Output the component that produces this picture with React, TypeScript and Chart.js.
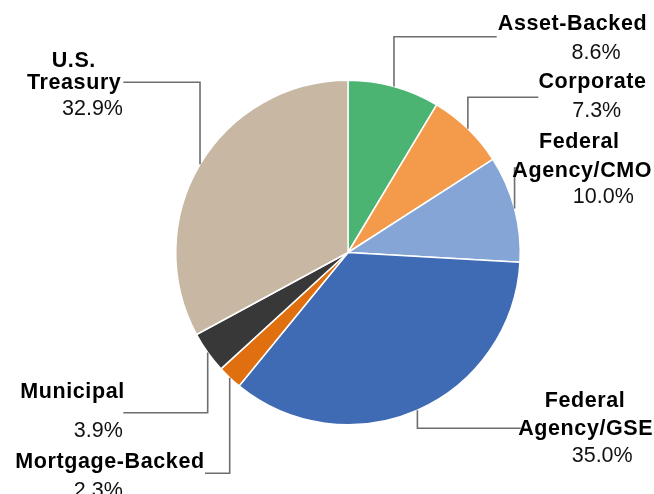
import React, { useEffect, useRef } from "react";
import { Chart, registerables } from "chart.js";

Chart.register(...registerables);

const categories = [
  "Asset-Backed",
  "Corporate",
  "Federal Agency/CMO",
  "Federal Agency/GSE",
  "Mortgage-Backed",
  "Municipal",
  "U.S. Treasury",
];
const shares = [8.6, 7.3, 10.0, 35.0, 2.3, 3.9, 32.9];
const nameLines = [
  ["Asset-Backed"],
  ["Corporate"],
  ["Federal", "Agency/CMO"],
  ["Federal", "Agency/GSE"],
  ["Mortgage-Backed"],
  ["Municipal"],
  ["U.S.", "Treasury"],
];
const colors = ["#4BB473", "#F39B4A", "#84A5D6", "#3F6BB4", "#E0700F", "#383838", "#C7B7A3"];

// label placement (canvas px): x centres / baselines for name lines, percent line, leader elbow
const labelLayout = [
  { nx: [572.5], ny: [30], px: 596, py: 58.5, elbowY: 36.7, endX: 496.7 },
  { nx: [592.5], ny: [88], px: 596.7, py: 116.5, elbowY: 97.3, endX: 538.3 },
  { nx: [579.3, 582.2], ny: [148, 176.5], px: 603.3, py: 203.3, elbowY: 168, endX: 517 },
  { nx: [585, 585.7], ny: [406.5, 435], px: 602.2, py: 461.7, elbowY: 428.3, endX: 520.7 },
  { nx: [110], ny: [468.3], px: 98.3, py: 496.7, elbowY: 473.3, endX: 205 },
  { nx: [72.5], ny: [398.3], px: 98.3, py: 436.7, elbowY: 412.7, endX: 123.3 },
  { nx: [73.8, 74.2], ny: [66.7, 89.3], px: 92.5, py: 115, elbowY: 82.3, endX: 123.3 },
];

const labelPlugin = {
  id: "leaderLabels",
  afterDatasetsDraw(chart: any) {
    const ctx = chart.ctx;
    const meta = chart.getDatasetMeta(0);
    const data = chart.data.datasets[0].data as number[];
    ctx.save();
    meta.data.forEach((arc: any, i: number) => {
      const { x, y, startAngle, endAngle, outerRadius } = arc.getProps(
        ["x", "y", "startAngle", "endAngle", "outerRadius"],
        true
      );
      const mid = (startAngle + endAngle) / 2;
      const sx = x + Math.cos(mid) * outerRadius;
      const sy = y + Math.sin(mid) * outerRadius;
      const L = labelLayout[i];
      ctx.strokeStyle = "#6E6E6E";
      ctx.lineWidth = 1.6;
      ctx.beginPath();
      ctx.moveTo(sx, sy);
      ctx.lineTo(sx, L.elbowY);
      ctx.lineTo(L.endX, L.elbowY);
      ctx.stroke();

      ctx.textAlign = "center";
      ctx.textBaseline = "alphabetic";
      ctx.fillStyle = "#000000";
      ctx.font = "bold 21.5px 'Liberation Sans', Arial, sans-serif";
      (ctx as any).letterSpacing = "0.6px";
      nameLines[i].forEach((t, k) => {
        ctx.fillText(t, L.nx[k], L.ny[k]);
      });
      (ctx as any).letterSpacing = "0px";
      ctx.fillStyle = "#111111";
      ctx.font = "21.5px 'Liberation Sans', Arial, sans-serif";
      ctx.fillText(`${data[i].toFixed(1)}%`, L.px, L.py);
    });
    ctx.restore();
  },
};

export default function App() {
  const ref = useRef<HTMLCanvasElement | null>(null);
  useEffect(() => {
    if (!ref.current) return;
    const chart = new Chart(ref.current, {
      type: "pie",
      data: {
        labels: categories,
        datasets: [
          {
            data: shares,
            backgroundColor: colors,
            borderColor: "#FFFFFF",
            borderWidth: 1.5,
          },
        ],
      },
      options: {
        animation: false,
        responsive: false,
        layout: { padding: { left: 175, right: 133, top: 79, bottom: 68 } },
        plugins: {
          legend: { display: false },
          tooltip: { enabled: false },
        },
      },
      plugins: [labelPlugin],
    });
    return () => chart.destroy();
  }, []);
  return (
    <div style={{ position: "absolute", left: 0, top: 0, width: 654, height: 494, background: "#fff" }}>
      <canvas ref={ref} width={654} height={494} style={{ width: 654, height: 494, display: "block" }} />
    </div>
  );
}
